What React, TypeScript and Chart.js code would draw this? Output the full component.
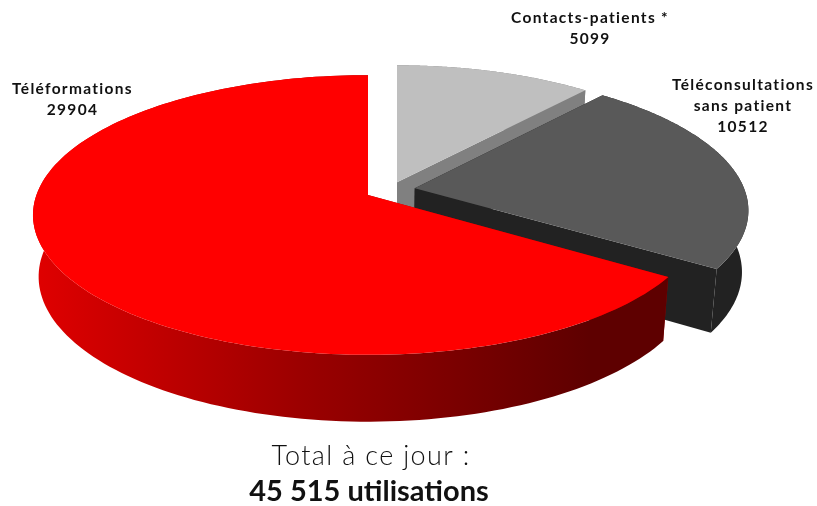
import React, { useEffect, useRef } from "react";
import { Chart, registerables } from "chart.js";

Chart.register(...registerables);

const categories = ["Contacts-patients *", "Téléconsultations sans patient", "Téléformations"];
const values = [5099, 10512, 29904];
const labelLines = [["Contacts-patients *", "5099"], ["Téléconsultations", "sans patient", "10512"], ["Téléformations", "29904"]];
const topColors = ["#bfbfbf", "#595959", "#ff0000"];
const wallColors = ["#808080", "#222222", "#a00000"];
const explode = [[0, -0.095, 29], [0.142, -0.05, 0], [0, 0, 0]];
const radiusU = [0.985, 1, 1];
const labelCenters = [590, 743, 72.5];
const labelTops = [18, 85, 89];
const totalLines = ["Total à ce jour :", "45 515 utilisations"];

const AX = 368, AY = 195, A = 331.6, B = 137, K = 1 / 7;
const BY = 256, BA = 326, BB = 142;

function proj(u: number, v: number, bottom: boolean) {
  const w = 1 - K * v;
  if (bottom) return [AX + (BA * u) / w, BY + (BB * v) / w];
  return [AX + (A * u) / w, AY + (B * v) / w];
}

const pie3d = {
  id: "pie3d",
  beforeDatasetDraw() {
    return false;
  },
  afterDatasetsDraw(chart: any) {
    const ctx: CanvasRenderingContext2D = chart.ctx;
    const arcs = chart.getDatasetMeta(0).data;
    ctx.save();
    ctx.lineJoin = "round";
    arcs.forEach((arc: any, i: number) => {
      const a0 = arc.startAngle + Math.PI / 2;
      const a1 = arc.endAngle + Math.PI / 2;
      const [ox, oy, dx] = explode[i];
      const pt = (a: number, r: number, b: boolean) => {
        const p = proj(ox + r * radiusU[i] * Math.sin(a), oy - r * Math.cos(a), b);
        return [p[0] + dx, p[1]];
      };
      const N = 160;
      const rim: number[] = [];
      for (let k = 0; k <= N; k++) rim.push(a0 + ((a1 - a0) * k) / N);
      const poly = (pts: number[][], fill: any) => {
        ctx.beginPath();
        pts.forEach((p, n) => (n ? ctx.lineTo(p[0], p[1]) : ctx.moveTo(p[0], p[1])));
        ctx.closePath();
        ctx.fillStyle = fill;
        ctx.fill();
      };
      let wall: any = wallColors[i];
      if (i === 2) {
        const g = ctx.createLinearGradient(33, 0, 665, 0);
        g.addColorStop(0, "#e00000");
        g.addColorStop(0.42, "#9c0000");
        g.addColorStop(0.88, "#5e0000");
        g.addColorStop(1, "#5e0000");
        wall = g;
      }
      poly([pt(a0, 0, false), pt(a0, 1, false), pt(a0, 1, true), pt(a0, 0, true)], wallColors[i]);
      poly([pt(a1, 0, false), pt(a1, 1, false), pt(a1, 1, true), pt(a1, 0, true)], wallColors[i]);
      poly([...rim.map((a) => pt(a, 1, false)), ...rim.slice().reverse().map((a) => pt(a, 1, true))], wall);
      poly([pt(a0, 0, false), ...rim.map((a) => pt(a, 1, false))], topColors[i]);
    });
    ctx.fillStyle = "#111111";
    ctx.textAlign = "center";
    ctx.textBaseline = "middle";
    (ctx as any).letterSpacing = "1.3px";
    ctx.font = "bold 15.5px Lato";
    labelLines.forEach((lines, i) => {
      lines.forEach((t, n) => ctx.fillText(t, labelCenters[i], labelTops[i] + n * 21));
    });
    (ctx as any).letterSpacing = "1.35px";
    ctx.fillStyle = "#111111";
    ctx.font = "300 27px Lato";
    ctx.fillText(totalLines[0], 371, 456);
    (ctx as any).letterSpacing = "0px";
    ctx.fillStyle = "#111111";
    ctx.font = "bold 29px Lato";
    ctx.fillText(totalLines[1], 369, 492);
    ctx.restore();
  },
};

export default function App() {
  const ref = useRef<HTMLCanvasElement>(null);
  useEffect(() => {
    const chart = new Chart(ref.current!, {
      type: "pie",
      data: {
        labels: categories,
        datasets: [{ data: values, backgroundColor: topColors, borderWidth: 0 }],
      },
      options: {
        animation: false,
        responsive: false,
        plugins: { legend: { display: false }, tooltip: { enabled: false } },
      },
      plugins: [pie3d],
    } as any);
    return () => chart.destroy();
  }, []);
  return (
    <div style={{ position: "fixed", left: 0, top: 0, width: 817, height: 506, background: "#fff" }}>
      <canvas ref={ref} width={817} height={506} style={{ display: "block" }} />
    </div>
  );
}
